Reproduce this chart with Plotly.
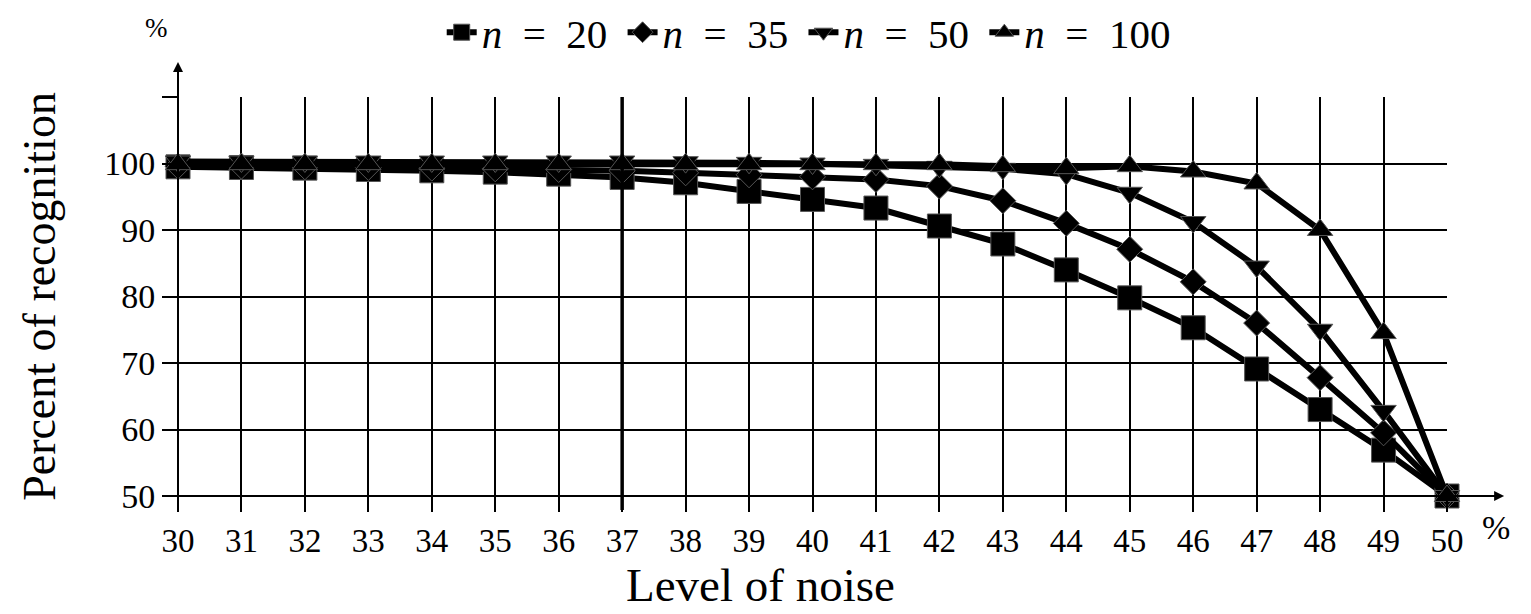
import plotly.graph_objects as go

noise = list(range(30, 51))
n20 = [99.5, 99.4, 99.3, 99.1, 98.9, 98.7, 98.4, 97.9, 97.1, 95.8, 94.6, 93.3, 90.6, 87.9, 84.0, 79.8, 75.3, 69.1, 63.0, 56.9, 50.0]
n35 = [99.6, 99.6, 99.5, 99.4, 99.3, 99.2, 99.1, 98.9, 98.6, 98.3, 98.0, 97.6, 96.6, 94.4, 91.0, 87.1, 82.2, 76.0, 67.8, 59.5, 50.0]
n50 = [100.3, 100.3, 100.3, 100.3, 100.3, 100.3, 100.3, 100.3, 100.2, 100.1, 100.0, 99.8, 99.5, 99.2, 98.4, 95.6, 91.2, 84.5, 75.0, 62.8, 50.0]
n100 = [99.9, 99.9, 99.9, 99.9, 99.9, 99.9, 99.9, 99.9, 99.9, 99.9, 99.9, 99.9, 99.9, 99.6, 99.3, 99.6, 98.8, 97.0, 90.0, 74.5, 50.0]
series_names = ["<i>n</i>  =  20 ", "<i>n</i>  =  35 ", "<i>n</i>  =  50 ", "<i>n</i>  =  100"]
series_values = [n20, n35, n50, n100]
symbols = ["square", "diamond", "triangle-down", "triangle-up"]
sizes = [24, 20, 22, 22]
y_ticks = [50, 60, 70, 80, 90, 100, 110]
y_labels = ["50", "60", "70", "80", "90", "100", ""]

FONT = "Liberation Serif"
fig = go.Figure()
for name, vals, sym, sz in zip(series_names, series_values, symbols, sizes):
    fig.add_trace(go.Scatter(
        x=noise, y=vals, name=name, mode="lines+markers",
        line=dict(color="black", width=6),
        marker=dict(symbol=sym, size=sz, color="black", line=dict(color="#555", width=1)),
        cliponaxis=False,
    ))

fig.update_layout(
    width=1531, height=614,
    margin=dict(l=170, r=92, t=89, b=126, autoexpand=False),
    plot_bgcolor="white", paper_bgcolor="white",
    font=dict(family=FONT, color="black", size=32),
    showlegend=True,
    legend=dict(orientation="h", x=0.523, xanchor="center", y=0.96, yanchor="middle",
                yref="container", xref="container", font=dict(size=41, family=FONT),
                tracegroupgap=0, bgcolor="rgba(0,0,0,0)", itemsizing="trace"),
    xaxis=dict(range=[30, 50], tickmode="array", tickvals=noise, ticktext=[str(v) for v in noise],
               showgrid=True, gridcolor="black", gridwidth=2, zeroline=False,
               ticks="outside", ticklen=15, tickwidth=2, tickcolor="black",
               tickfont=dict(size=33, family=FONT), showline=False),
    yaxis=dict(range=[50, 110], tickmode="array", tickvals=y_ticks, ticktext=y_labels,
               showgrid=True, gridcolor="black", gridwidth=2, zeroline=False,
               ticks="outside", ticklen=15, tickwidth=2, tickcolor="black",
               tickfont=dict(size=34, family=FONT), showline=False,
               title=dict(text="Percent of recognition", font=dict(size=46, family=FONT), standoff=34)),
)

# thicker line at 37
fig.add_shape(type="line", xref="x", yref="paper", x0=37, x1=37, y0=-0.035, y1=1,
              line=dict(color="black", width=3.5), layer="above")
# x axis line + arrow
fig.add_shape(type="line", xref="paper", yref="paper", x0=0, x1=1.04, y0=0, y1=0,
              line=dict(color="black", width=2), layer="above")
fig.add_annotation(xref="paper", yref="paper", axref="pixel", ayref="pixel", x=1.045, y=0,
                   ax=-30, ay=0, showarrow=True, arrowhead=2, arrowsize=1, arrowwidth=2,
                   arrowcolor="black", text="")
# y axis arrow
fig.add_annotation(xref="paper", yref="paper", axref="pixel", ayref="pixel", x=0, y=1.088,
                   ax=0, ay=448, showarrow=True, arrowhead=2, arrowsize=1, arrowwidth=2,
                   arrowcolor="black", text="")
fig.add_annotation(xref="paper", yref="paper", x=1.039, y=-0.08, text="%", showarrow=False,
                   xanchor="center", yanchor="middle", font=dict(size=34, family=FONT))
fig.add_annotation(xref="paper", yref="paper", x=-0.017, y=1.172, text="%", showarrow=False,
                   xanchor="center", yanchor="middle", font=dict(size=27, family=FONT))
fig.add_annotation(xref="paper", yref="paper", x=0.459, y=-0.224, text="Level of noise",
                   xanchor="center", yanchor="middle",
                   showarrow=False, font=dict(size=47, family=FONT))

fig.write_html("out.html")
